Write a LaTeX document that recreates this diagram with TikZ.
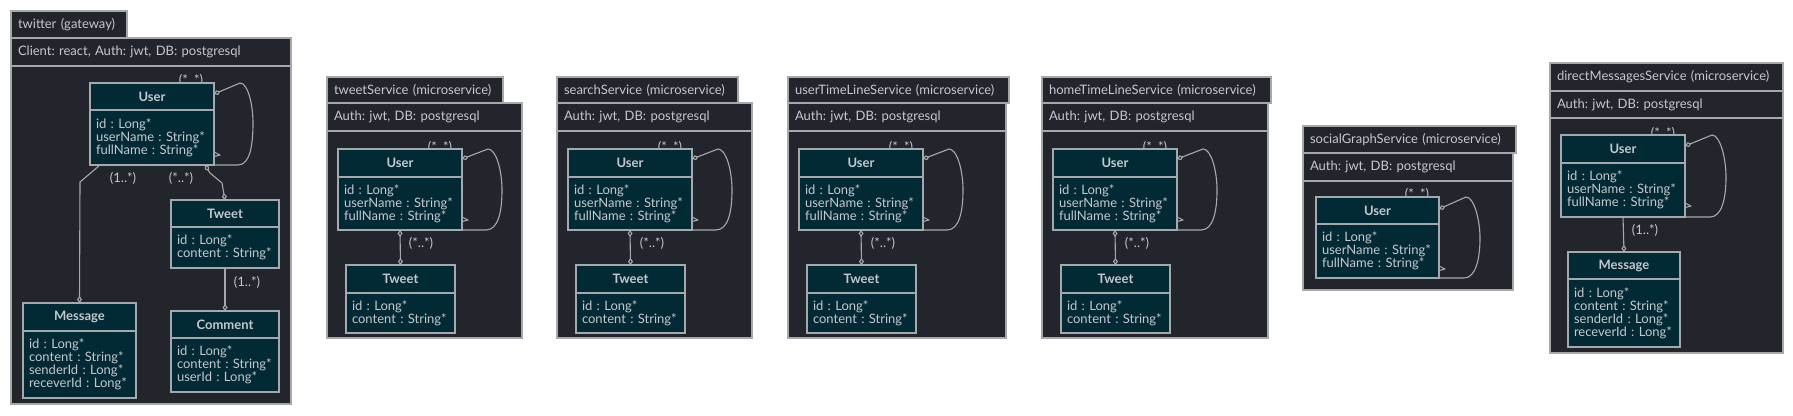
\documentclass[tikz,border=0pt]{standalone}
\usepackage{fontspec}
\setmainfont{Lato}
\frenchspacing
\usetikzlibrary{arrows.meta}
\definecolor{pkgfill}{HTML}{22252B}
\definecolor{entfill}{HTML}{022A35}
\definecolor{linegray}{HTML}{A6A9AC}
\definecolor{textgray}{HTML}{C5C8CC}
\tikzset{
  pkgbox/.style={draw=linegray, fill=pkgfill, line width=1.3pt, anchor=north west, inner xsep=7pt, inner ysep=0pt, outer sep=0pt, align=left, text=textgray, font=\fontsize{13}{13}\selectfont},
  enttitle/.style={draw=linegray, fill=entfill, line width=1.2pt, anchor=north west, inner sep=0pt, outer sep=0pt, text=textgray, font=\fontsize{13}{13}\selectfont\bfseries},
  entbody/.style={enttitle, font=\fontsize{13}{13}\selectfont, inner xsep=6pt, align=left},
  mult/.style={text=textgray, font=\fontsize{13}{13}\selectfont, inner sep=0pt},
  link/.style={draw=linegray, line width=1.1pt, line join=round},
  both/.style={link, {Diamond[open,length=7pt,width=5pt]}-{Diamond[open,length=7pt,width=5pt]}},
  toend/.style={link, -{Diamond[open,length=7pt,width=5pt]}},
  fromstart/.style={link, {Diamond[open,length=7pt,width=5pt]}-},
}
\begin{document}
\begin{tikzpicture}[x=1pt,y=-1pt]
\useasboundingbox[fill=white] (0,0) rectangle (1793,415);

% twitter (gateway)
\node[pkgbox, minimum height=27pt, text width=102pt] (gwtab) at (11,11) {twitter (gateway)};
\node[pkgbox, minimum height=28pt, text width=266pt] (gwhead) at (11,38) {Client: react, Auth: jwt, DB: postgresql};
\node[pkgbox, minimum height=338pt, minimum width=280pt] (gwbody) at (11,66) {};
\node[mult] (gwlabself) at (191,80) {(*..*)};
\node[mult] (gwlabmsg) at (123,178) {(1..*)};
\node[mult] (gwlabtweet) at (181,178) {(*..*)};
\node[mult] (gwlabcomment) at (247,282) {(1..*)};
\node[enttitle, minimum width=124pt, minimum height=27pt] (gwusert) at (90,83) {User};
\node[entbody, minimum height=55pt, text width=112pt] (gwuser) at (90,110) {id : Long*\\userName : String*\\fullName : String*};
\node[enttitle, minimum width=108pt, minimum height=27pt] (gwtweett) at (171,200) {Tweet};
\node[entbody, minimum height=41pt, text width=96pt] (gwtweet) at (171,227) {id : Long*\\content : String*};
\node[enttitle, minimum width=108pt, minimum height=27pt] (gwcommentt) at (171,311) {Comment};
\node[entbody, minimum height=54pt, text width=96pt] (gwcomment) at (171,338) {id : Long*\\content : String*\\userId : Long*};
\node[enttitle, minimum width=113pt, minimum height=28pt] (gwmsgt) at (23,303) {Message};
\node[entbody, minimum height=67pt, text width=101pt] (gwmsg) at (23,331) {id : Long*\\content : String*\\senderId : Long*\\receverId : Long*};
\draw[fromstart] ([yshift=2.5pt]gwusert.east) -- (240,83) .. controls (248,83) and (253,105) .. (253,123) .. controls (253,145) and (250,165) .. (238,165) -- (gwuser.south east);
\draw[link] ([yshift=13pt]gwuser.south east) -- ++(6,3) -- ++(-6,1.5);
\coordinate (gwbendmsg) at (80,182);
\draw[toend] ([xshift=10pt]gwuser.south west) -- (gwbendmsg) -- (gwmsgt.north);
\draw[both] ([xshift=-9pt]gwuser.south east) -- (210,173) -- (222,183) -- (gwtweett.north);
\draw[toend] (gwtweet.south) -- (gwcommentt.north);

% tweetService (microservice)
\node[pkgbox, minimum height=26pt, text width=162pt] (tstab) at (327,77) {tweetService (microservice)};
\node[pkgbox, minimum height=28pt, text width=181pt] (tshead) at (327,103) {Auth: jwt, DB: postgresql};
\node[pkgbox, minimum height=207pt, minimum width=195pt] (tsbody) at (327,131) {};
\node[mult] (tslabself) at (440,147) {(*..*)};
\node[mult] (tslabtweet) at (421,243) {(*..*)};
\node[enttitle, minimum width=124pt, minimum height=28pt] (tsusert) at (338,149) {User};
\node[entbody, minimum height=53pt, text width=112pt] (tsuser) at (338,177) {id : Long*\\userName : String*\\fullName : String*};
\node[enttitle, minimum width=109pt, minimum height=28pt] (tstweett) at (346,265) {Tweet};
\node[entbody, minimum height=40pt, text width=97pt] (tstweet) at (346,293) {id : Long*\\content : String*};
\draw[fromstart] ([yshift=4pt]tsusert.east) -- (488,149) .. controls (496,149) and (502,170) .. (502,190) .. controls (502,212) and (498,230) .. (486,230) -- (tsuser.south east);
\draw[link] ([yshift=13pt]tsuser.south east) -- ++(6,3) -- ++(-6,1.5);
\draw[both] (tsuser.south) -- (tstweett.north);

% searchService (microservice)
\node[pkgbox, minimum height=26pt, text width=167pt] (sstab) at (557,77) {searchService (microservice)};
\node[pkgbox, minimum height=28pt, text width=181pt] (sshead) at (557,103) {Auth: jwt, DB: postgresql};
\node[pkgbox, minimum height=207pt, minimum width=195pt] (ssbody) at (557,131) {};
\node[mult] (sslabself) at (670,147) {(*..*)};
\node[mult] (sslabtweet) at (652,243) {(*..*)};
\node[enttitle, minimum width=124pt, minimum height=28pt] (ssusert) at (568,149) {User};
\node[entbody, minimum height=53pt, text width=112pt] (ssuser) at (568,177) {id : Long*\\userName : String*\\fullName : String*};
\node[enttitle, minimum width=109pt, minimum height=28pt] (sstweett) at (576,265) {Tweet};
\node[entbody, minimum height=40pt, text width=97pt] (sstweet) at (576,293) {id : Long*\\content : String*};
\draw[fromstart] ([yshift=4pt]ssusert.east) -- (718,149) .. controls (726,149) and (732,170) .. (732,190) .. controls (732,212) and (728,230) .. (716,230) -- (ssuser.south east);
\draw[link] ([yshift=13pt]ssuser.south east) -- ++(6,3) -- ++(-6,1.5);
\draw[both] (ssuser.south) -- (sstweett.north);

% userTimeLineService (microservice)
\node[pkgbox, minimum height=26pt, text width=207pt] (uttab) at (788,77) {userTimeLineService (microservice)};
\node[pkgbox, minimum height=28pt, text width=204pt] (uthead) at (788,103) {Auth: jwt, DB: postgresql};
\node[pkgbox, minimum height=207pt, minimum width=218pt] (utbody) at (788,131) {};
\node[mult] (utlabself) at (901,147) {(*..*)};
\node[mult] (utlabtweet) at (883,243) {(*..*)};
\node[enttitle, minimum width=124pt, minimum height=28pt] (utusert) at (799,149) {User};
\node[entbody, minimum height=53pt, text width=112pt] (utuser) at (799,177) {id : Long*\\userName : String*\\fullName : String*};
\node[enttitle, minimum width=109pt, minimum height=28pt] (uttweett) at (807,265) {Tweet};
\node[entbody, minimum height=40pt, text width=97pt] (uttweet) at (807,293) {id : Long*\\content : String*};
\draw[fromstart] ([yshift=4pt]utusert.east) -- (949,149) .. controls (957,149) and (963,170) .. (963,190) .. controls (963,212) and (959,230) .. (947,230) -- (utuser.south east);
\draw[link] ([yshift=13pt]utuser.south east) -- ++(6,3) -- ++(-6,1.5);
\draw[both] (utuser.south) -- (uttweett.north);

% homeTimeLineService (microservice)
\node[pkgbox, minimum height=26pt, text width=215pt] (httab) at (1042,77) {homeTimeLineService (microservice)};
\node[pkgbox, minimum height=28pt, text width=212pt] (hthead) at (1042,103) {Auth: jwt, DB: postgresql};
\node[pkgbox, minimum height=207pt, minimum width=226pt] (htbody) at (1042,131) {};
\node[mult] (htlabself) at (1155,147) {(*..*)};
\node[mult] (htlabtweet) at (1137,243) {(*..*)};
\node[enttitle, minimum width=124pt, minimum height=28pt] (htusert) at (1053,149) {User};
\node[entbody, minimum height=53pt, text width=112pt] (htuser) at (1053,177) {id : Long*\\userName : String*\\fullName : String*};
\node[enttitle, minimum width=109pt, minimum height=28pt] (httweett) at (1061,265) {Tweet};
\node[entbody, minimum height=40pt, text width=97pt] (httweet) at (1061,293) {id : Long*\\content : String*};
\draw[fromstart] ([yshift=4pt]htusert.east) -- (1203,149) .. controls (1211,149) and (1217,170) .. (1217,190) .. controls (1217,212) and (1213,230) .. (1201,230) -- (htuser.south east);
\draw[link] ([yshift=13pt]htuser.south east) -- ++(6,3) -- ++(-6,1.5);
\draw[both] (htuser.south) -- (httweett.north);

% socialGraphService (microservice)
\node[pkgbox, minimum height=27pt, text width=199pt] (sgtab) at (1303,126) {socialGraphService (microservice)};
\node[pkgbox, minimum height=28pt, text width=196pt] (sghead) at (1303,153) {Auth: jwt, DB: postgresql};
\node[pkgbox, minimum height=109pt, minimum width=210pt] (sgbody) at (1303,181) {};
\node[mult] (sglabself) at (1417,194) {(*..*)};
\node[enttitle, minimum width=123pt, minimum height=27pt] (sgusert) at (1316,197) {User};
\node[entbody, minimum height=54pt, text width=111pt] (sguser) at (1316,224) {id : Long*\\userName : String*\\fullName : String*};
\draw[fromstart] ([yshift=1.5pt]sgusert.east) -- (1466,197) .. controls (1474,197) and (1480,220) .. (1480,238) .. controls (1480,258) and (1476,278) .. (1464,278) -- (sguser.south east);
\draw[link] ([yshift=12pt]sguser.south east) -- ++(6,3) -- ++(-6,1.5);

% directMessagesService (microservice)
\node[pkgbox, minimum height=28pt, text width=219pt] (dmtab) at (1550,63) {directMessagesService (microservice)};
\node[pkgbox, minimum height=27pt, text width=219pt] (dmhead) at (1550,91) {Auth: jwt, DB: postgresql};
\node[pkgbox, minimum height=235pt, minimum width=233pt] (dmbody) at (1550,118) {};
\node[mult] (dmlabself) at (1663,133) {(*..*)};
\node[mult] (dmlabmsg) at (1645,230) {(1..*)};
\node[enttitle, minimum width=124pt, minimum height=28pt] (dmusert) at (1561,135) {User};
\node[entbody, minimum height=54pt, text width=112pt] (dmuser) at (1561,163) {id : Long*\\userName : String*\\fullName : String*};
\node[enttitle, minimum width=112pt, minimum height=27pt] (dmmsgt) at (1568,252) {Message};
\node[entbody, minimum height=68pt, text width=100pt] (dmmsg) at (1568,279) {id : Long*\\content : String*\\senderId : Long*\\receverId : Long*};
\draw[fromstart] ([yshift=3pt]dmusert.east) -- (1712,135) .. controls (1720,135) and (1726,158) .. (1726,177) .. controls (1726,198) and (1722,217) .. (1710,217) -- (dmuser.south east);
\draw[link] ([yshift=14pt]dmuser.south east) -- ++(6,3) -- ++(-6,1.5);
\draw[toend] (dmuser.south) -- (dmmsgt.north);
\end{tikzpicture}
\end{document}
